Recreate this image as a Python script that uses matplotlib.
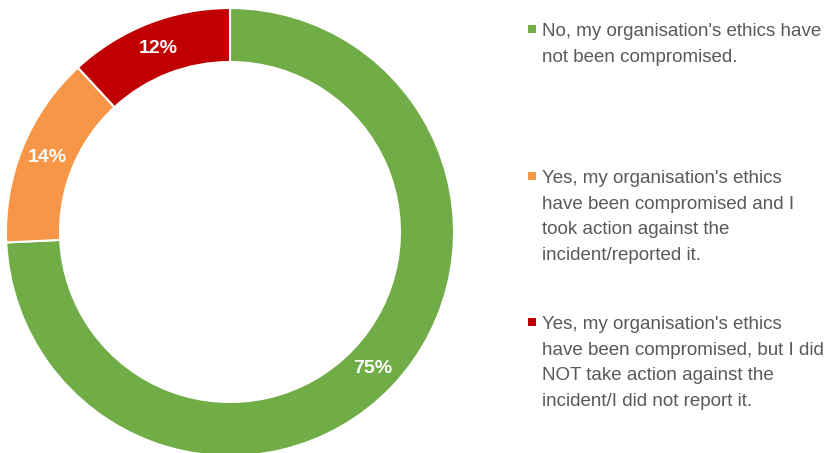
import matplotlib.pyplot as plt
import numpy as np
from matplotlib.patches import Rectangle

# Survey answers and share of respondents (%)
answers = [
    "No, my organisation's ethics have\nnot been compromised.",
    "Yes, my organisation's ethics\nhave been compromised and I\ntook action against the\nincident/reported it.",
    "Yes, my organisation's ethics\nhave been compromised, but I did\nNOT take action against the\nincident/I did not report it.",
]
shares = [75, 14, 12]
colors = ["#70AD47", "#F79646", "#C00000"]

W, H = 832, 453
fig = plt.figure(figsize=(W / 100, H / 100), dpi=100)
ax = fig.add_axes([0, 0, 1, 1])

cx, cy, r_out, ring = 230, H - 232, 224, 54
wedges, _ = ax.pie(shares, colors=colors, startangle=90, counterclock=False,
                   center=(cx, cy), radius=r_out,
                   wedgeprops=dict(width=ring, edgecolor="white", linewidth=1.5))

# percentage labels in the middle of each ring segment
r_mid = r_out - ring / 2
for w, v in zip(wedges, shares):
    ang = np.deg2rad((w.theta1 + w.theta2) / 2)
    ax.text(cx + r_mid * np.cos(ang), cy + r_mid * np.sin(ang), f"{v}%",
            ha="center", va="center", color="white", fontsize=14,
            fontweight="bold", family="Liberation Sans")

ax.set_xlim(0, W)
ax.set_ylim(0, H)
ax.set_aspect("equal")
ax.axis("off")

# legend: square marker next to first line of each entry
tops = [23, 170, 316]
for label, col, top in zip(answers, colors, tops):
    ax.add_patch(Rectangle((528, H - top - 10), 8, 8, color=col, lw=0))
    ax.text(542, H - top, label, ha="left", va="top", color="#595959",
            fontsize=13.5, family="Liberation Sans", linespacing=1.66)

fig.savefig("out.png", dpi=100)
